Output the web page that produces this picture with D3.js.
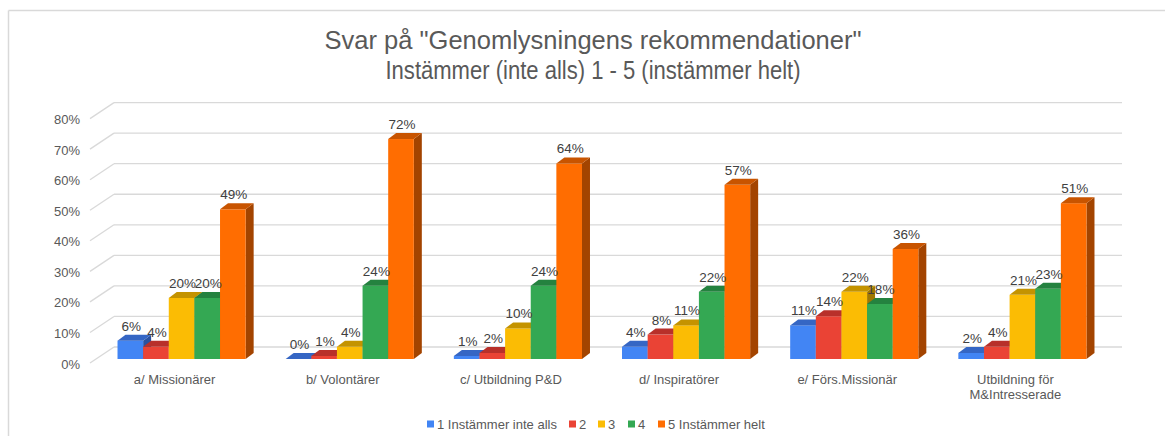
<!DOCTYPE html>
<html>
<head>
<meta charset="utf-8">
<script src="https://cdn.jsdelivr.net/npm/d3@7"></script>
<style>
  html, body { margin: 0; padding: 0; background: #fff; }
  svg { display: block; font-family: "Liberation Sans", Arial, sans-serif; }
</style>
</head>
<body>
<svg id="chart" width="1165" height="436"></svg>
<script>
const titleLines = ['Svar på "Genomlysningens rekommendationer"', 'Instämmer (inte alls) 1 - 5 (instämmer helt)'];
const categories = ["a/ Missionärer", "b/ Volontärer", "c/ Utbildning P&D", "d/ Inspiratörer", "e/ Förs.Missionär", "Utbildning för\nM&Intresserade"];
const seriesNames = ["1 Instämmer inte alls", "2", "3", "4", "5 Instämmer helt"];
const s1 = [6, 0, 1, 4, 11, 2];
const s2 = [4, 1, 2, 8, 14, 4];
const s3 = [20, 4, 10, 11, 22, 21];
const s4 = [20, 24, 24, 22, 18, 23];
const s5 = [49, 72, 64, 57, 36, 51];
const yTicks = [0, 10, 20, 30, 40, 50, 60, 70, 80];
const seriesValues = [s1, s2, s3, s4, s5];

const colors = ["#4285F4", "#EA4335", "#FBBC04", "#34A853", "#FF6D01"];
const topColors = ["#3566C4", "#B8302A", "#C49300", "#24823F", "#C85400"];
const sideColors = ["#2A52A0", "#9A2620", "#A07800", "#1C6A32", "#A34400"];

const svg = d3.select("#chart");

// frame (top and left edges)
svg.append("line").attr("x1", 8.5).attr("y1", 10.5).attr("x2", 1165).attr("y2", 10.5)
  .attr("stroke", "#d9d9d9").attr("stroke-width", 1.5);
svg.append("line").attr("x1", 8.5).attr("y1", 10.5).attr("x2", 8.5).attr("y2", 436)
  .attr("stroke", "#d9d9d9").attr("stroke-width", 1.5);

// title
svg.append("g").selectAll("text").data(titleLines).join("text")
  .attr("x", 593).attr("y", (d, i) => 48.5 + i * 30)
  .attr("text-anchor", "middle").attr("fill", "#595959")
  .attr("font-size", 25.5).attr("textLength", (d, i) => i === 0 ? 537 : 415)
  .attr("lengthAdjust", "spacingAndGlyphs").text(d => d);

// scales
const y = d3.scaleLinear().domain([0, 80]).range([359, 359 - 80 * 3.055]);
const x0 = d3.scaleBand().domain(categories).range([97.5, 1106.5]).paddingInner(0.238).paddingOuter(0.119);
const x1 = d3.scaleBand().domain(d3.range(5)).range([0, x0.bandwidth()]);

// 3D geometry
const wallDx = 24, wallDy = 16;      // front edge -> back wall
const backOffY = 12;                  // bar front plane -> back wall
const barDx = 8, barDy = 6;

// gridlines on back wall + diagonal on side wall
const grid = svg.append("g");
yTicks.forEach(t => {
  const yb = y(t) - backOffY;
  grid.append("line").attr("x1", 90 + wallDx).attr("x2", 1122)
    .attr("y1", yb).attr("y2", yb).attr("stroke", "#d9d9d9").attr("stroke-width", 1.3);
  grid.append("line").attr("x1", 90).attr("y1", yb + wallDy)
    .attr("x2", 90 + wallDx).attr("y2", yb).attr("stroke", "#d9d9d9").attr("stroke-width", 1.3);
});

// y tick labels
svg.append("g").selectAll("text").data(yTicks).join("text")
  .attr("x", 80).attr("y", d => y(d) - backOffY + wallDy + 1)
  .attr("dy", "0.35em").attr("text-anchor", "end")
  .attr("fill", "#595959").attr("font-size", 13)
  .text(d => d + "%");

// bars
const bars = svg.append("g");
categories.forEach((c, ci) => {
  const g = bars.append("g");
  seriesValues.forEach((vals, si) => {
    const v = vals[ci];
    const bx0 = x0(c) + x1(si);
    const bx1 = bx0 + x1.bandwidth();
    const yt = y(v), yb = y(0);
    g.append("path").attr("fill", sideColors[si])
      .attr("d", `M${bx1},${yt}L${bx1 + barDx},${yt - barDy}L${bx1 + barDx},${yb - barDy}L${bx1},${yb}Z`);
    g.append("rect").attr("x", bx0).attr("y", yt).attr("width", bx1 - bx0).attr("height", yb - yt)
      .attr("fill", colors[si]);
    g.append("path").attr("fill", topColors[si])
      .attr("d", `M${bx0},${yt}L${bx1},${yt}L${bx1 + barDx},${yt - barDy}L${bx0 + barDx},${yt - barDy}Z`);
  });
});

// value labels
const labels = svg.append("g");
categories.forEach((c, ci) => {
  seriesValues.forEach((vals, si) => {
    const v = vals[ci];
    const cx = x0(c) + x1(si) + x1.bandwidth() / 2 + 1;
    labels.append("text").attr("x", cx).attr("y", y(v) - barDy - 4)
      .attr("text-anchor", "middle").attr("fill", "#404040").attr("font-size", 13.5)
      .text(d3.format(".0f")(v) + "%");
  });
});

// category labels
const catG = svg.append("g");
categories.forEach(c => {
  const lines = c.split("\n");
  const t = catG.append("text").attr("x", x0(c) + x0.bandwidth() / 2 - 7).attr("y", 384)
    .attr("text-anchor", "middle").attr("fill", "#595959").attr("font-size", 13);
  lines.forEach((l, i) => t.append("tspan").attr("x", x0(c) + x0.bandwidth() / 2 - 7)
    .attr("dy", i === 0 ? 0 : 14.5).text(l));
});

// legend
const legendX = [427, 569, 598, 628, 658];
const leg = svg.append("g");
seriesNames.forEach((n, i) => {
  leg.append("rect").attr("x", legendX[i]).attr("y", 420.5).attr("width", 7).attr("height", 7)
    .attr("fill", colors[i]);
  leg.append("text").attr("x", legendX[i] + 10).attr("y", 424).attr("dy", "0.35em")
    .attr("fill", "#595959").attr("font-size", 13).text(n);
});
</script>
</body>
</html>
